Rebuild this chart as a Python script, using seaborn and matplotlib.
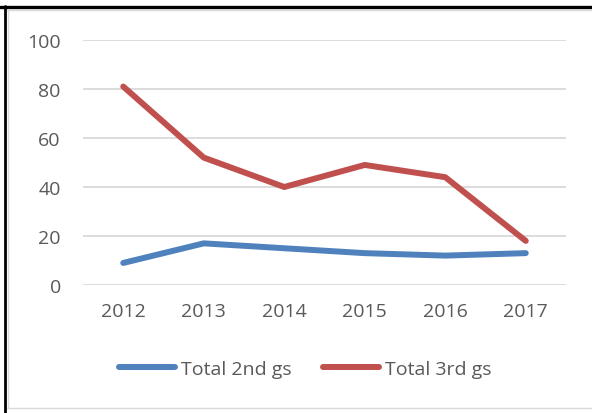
import numpy as np
import pandas as pd
import matplotlib.pyplot as plt
import seaborn as sns

# Data
years = [2012, 2013, 2014, 2015, 2016, 2017]
total_2nd = [9, 17, 15, 13, 12, 13]
total_3rd = [81, 52, 40, 49, 44, 18]
series_names = ["Total 2nd gs", "Total 3rd gs"]

df = pd.DataFrame({
    "Year": years * 2,
    "Value": total_2nd + total_3rd,
    "Series": [series_names[0]] * len(years) + [series_names[1]] * len(years),
})

sns.set_style("white")
plt.rcParams["font.family"] = ["Open Sans", "DejaVu Sans"]

W, H = 592, 414
fig = plt.figure(figsize=(W / 100, H / 100), dpi=100)
ax = fig.add_axes([83 / W, 1 - 286 / H, 483 / W, 245 / H])

palette = {series_names[0]: "#4F81BD", series_names[1]: "#C0504D"}
sns.lineplot(data=df, x="Year", y="Value", hue="Series", palette=palette,
             linewidth=4.3, ax=ax, legend=False, solid_capstyle="round",
             solid_joinstyle="round", clip_on=False)

ax.set_xlim(2011.5, 2017.5)
ax.set_ylim(0, 100)
ax.set_yticks(range(0, 101, 20))
ax.set_xticks(years)
ax.set_xlabel("")
ax.set_ylabel("")
ax.yaxis.grid(True, color="#D9D9D9", linewidth=1.3)
ax.set_axisbelow(True)
for s in ax.spines.values():
    s.set_visible(False)
ax.tick_params(axis="both", length=0, labelsize=14, labelcolor="#595959")
ax.tick_params(axis="y", pad=16)
ax.tick_params(axis="x", pad=12)

# legend below the plot
handles = [plt.Line2D([], [], color=palette[n], linewidth=4.3, solid_capstyle="round")
           for n in series_names]
fig.legend(handles, series_names, loc="center", bbox_to_anchor=(305 / W, 1 - 370 / H),
           ncol=2, frameon=False, fontsize=14, labelcolor="#595959",
           handlelength=2.9, handletextpad=0.3, columnspacing=1.6)

# frame of the cropped screenshot
def fline(x0, y0, x1, y1, color, lw):
    fig.add_artist(plt.Line2D([x0 / W, x1 / W], [1 - y0 / H, 1 - y1 / H],
                              transform=fig.transFigure, color=color, linewidth=lw))

fline(0, 7.5, W, 7.5, "black", 2.4)
fline(5, 7, 5, H, "black", 2.0)
fline(7, 10.5, W, 10.5, "#D9D9D9", 1.0)
fline(7.5, 10, 7.5, 409, "#D9D9D9", 1.0)
fline(7, 408.5, W, 408.5, "#D9D9D9", 1.0)

fig.savefig("out.png", dpi=100)
